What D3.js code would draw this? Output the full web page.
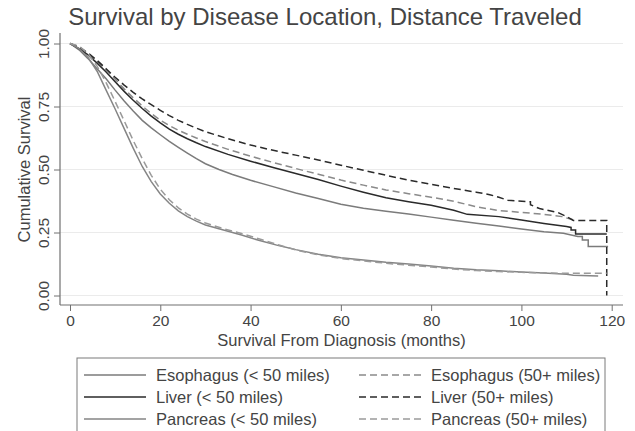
<!DOCTYPE html>
<html>
<head>
<meta charset="utf-8">
<script src="https://cdn.jsdelivr.net/npm/d3@7"></script>
<style>
  html, body { margin: 0; padding: 0; background: #fff; }
  svg { display: block; font-family: "Liberation Sans", Arial, sans-serif; }
</style>
</head>
<body>
<svg id="chart" width="635" height="431"></svg>
<script>
// Kaplan-Meier survival estimates: [months, cumulative survival]
const esophagusNear = [[0,1],[2,0.975],[4,0.94],[6,0.9],[8,0.86],[10,0.815],[12,0.772],[14,0.732],[16,0.695],[18,0.665],[20,0.638],[22,0.612],[24,0.588],[26,0.565],[28,0.543],[30,0.523],[33,0.5],[36,0.48],[40,0.457],[45,0.432],[50,0.407],[55,0.385],[60,0.362],[65,0.346],[70,0.334],[75,0.323],[80,0.311],[85,0.299],[90,0.287],[95,0.276],[100,0.264],[105,0.253],[109.3,0.247],[112.5,0.234],[113.5,0.234],[113.5,0.22],[114.8,0.22],[114.8,0.194],[119.2,0.194]];
const esophagusFar = [[0,1],[2,0.985],[4,0.96],[6,0.93],[8,0.896],[10,0.858],[12,0.82],[14,0.785],[16,0.752],[18,0.722],[20,0.696],[22,0.674],[24,0.656],[26,0.64],[28,0.625],[30,0.611],[35,0.58],[40,0.553],[45,0.528],[50,0.504],[55,0.481],[60,0.458],[65,0.438],[70,0.419],[75,0.404],[80,0.39],[85,0.374],[90,0.352],[95,0.337],[100,0.33],[105,0.322],[109,0.313],[111.5,0.3]];
const liverNear = [[0,1],[2,0.98],[4,0.955],[6,0.922],[8,0.887],[10,0.848],[12,0.81],[14,0.775],[16,0.742],[18,0.712],[20,0.685],[22,0.66],[24,0.64],[26,0.622],[28,0.606],[30,0.591],[35,0.56],[40,0.533],[45,0.508],[50,0.484],[55,0.46],[60,0.434],[65,0.41],[70,0.388],[75,0.372],[80,0.358],[85,0.338],[88,0.322],[95,0.313],[100,0.3],[105,0.286],[110,0.274],[111,0.27],[111,0.26],[112,0.26],[112,0.244],[118.9,0.244]];
const liverFar = [[0,1],[2,0.987],[4,0.962],[6,0.933],[8,0.9],[10,0.866],[12,0.835],[14,0.806],[16,0.78],[18,0.757],[20,0.735],[22,0.714],[24,0.695],[26,0.679],[28,0.664],[30,0.65],[35,0.622],[40,0.597],[45,0.576],[50,0.557],[55,0.538],[60,0.517],[65,0.497],[70,0.477],[75,0.458],[80,0.441],[85,0.425],[90,0.41],[93,0.4],[95,0.39],[97,0.378],[102,0.372],[102,0.36],[104,0.345],[108,0.33],[110,0.313],[111.5,0.298],[118.9,0.298],[118.9,0]];
const pancreasNear = [[0,1],[2,0.98],[4,0.945],[6,0.89],[8,0.815],[10,0.74],[12,0.662],[14,0.585],[16,0.512],[18,0.452],[20,0.403],[22,0.366],[24,0.336],[26,0.313],[28,0.295],[30,0.28],[34,0.26],[38,0.24],[42,0.218],[46,0.199],[50,0.182],[55,0.164],[60,0.15],[65,0.141],[70,0.132],[75,0.125],[80,0.117],[85,0.108],[90,0.102],[95,0.098],[100,0.093],[105,0.089],[110,0.084],[111.5,0.08],[117,0.077]];
const pancreasFar = [[0,1],[2,0.99],[4,0.96],[6,0.91],[8,0.845],[10,0.77],[12,0.693],[14,0.615],[16,0.543],[18,0.477],[20,0.422],[22,0.38],[24,0.348],[26,0.323],[28,0.303],[30,0.288],[34,0.265],[38,0.246],[42,0.224],[46,0.202],[50,0.181],[55,0.161],[60,0.147],[65,0.137],[70,0.128],[75,0.12],[80,0.113],[85,0.105],[90,0.099],[95,0.095],[100,0.092],[105,0.09],[110,0.088],[118.9,0.088]];

const xTicks = [0, 20, 40, 60, 80, 100, 120];
const yTicks = [0, 0.25, 0.5, 0.75, 1];
const seriesLabels = ["Esophagus (< 50 miles)", "Esophagus (50+ miles)", "Liver (< 50 miles)", "Liver (50+ miles)", "Pancreas (< 50 miles)", "Pancreas (50+ miles)"];

const series = [
  { label: seriesLabels[0], data: esophagusNear, color: "#7b7b7b", dash: null },
  { label: seriesLabels[1], data: esophagusFar,  color: "#8a8a8a", dash: "7,4" },
  { label: seriesLabels[2], data: liverNear,     color: "#2a2a2a", dash: null },
  { label: seriesLabels[3], data: liverFar,      color: "#2a2a2a", dash: "7,4" },
  { label: seriesLabels[4], data: pancreasNear,  color: "#858585", dash: null },
  { label: seriesLabels[5], data: pancreasFar,   color: "#9a9a9a", dash: "7,4" }
];

const frame = { left: 60, right: 623, top: 33, bottom: 305 };
const font = '"Liberation Sans", Arial, sans-serif';

const svg = d3.select("#chart");

const x = d3.scaleLinear().domain([0, 120]).range([70, 611.7]);
const y = d3.scaleLinear().domain([0, 1]).range([295.5, 43.5]);

// horizontal gridlines
svg.append("g").selectAll("line").data(yTicks).join("line")
  .attr("x1", frame.left).attr("x2", frame.right)
  .attr("y1", d => y(d)).attr("y2", d => y(d))
  .attr("stroke", "#ebebeb").attr("stroke-width", 1);

// title
svg.append("text")
  .attr("x", 325).attr("y", 25)
  .attr("text-anchor", "middle")
  .attr("font-size", 24).attr("fill", "#444")
  .text("Survival by Disease Location, Distance Traveled");

// survival curves
const line = d3.line().x(d => x(d[0])).y(d => y(d[1]));
svg.append("g").selectAll("path").data(series).join("path")
  .attr("d", d => line(d.data))
  .attr("fill", "none")
  .attr("stroke", d => d.color)
  .attr("stroke-width", 1.5)
  .attr("stroke-dasharray", d => d.dash);

// x axis
const xAxis = svg.append("g").attr("transform", `translate(0,${frame.bottom})`)
  .call(d3.axisBottom(x).tickValues(xTicks).tickSize(6).tickPadding(4).tickFormat(d3.format("d")));
xAxis.select(".domain").remove();
xAxis.append("line").attr("x1", frame.left).attr("x2", frame.right)
  .attr("stroke", "#707070").attr("stroke-width", 1.2);
xAxis.selectAll(".tick line").attr("stroke", "#707070");
xAxis.selectAll(".tick text").attr("font-size", 15.5).attr("fill", "#444").attr("font-family", font);

// y axis
const yAxis = svg.append("g").attr("transform", `translate(${frame.left},0)`)
  .call(d3.axisLeft(y).tickValues(yTicks).tickSize(6).tickFormat(d3.format(".2f")));
yAxis.select(".domain").remove();
yAxis.append("line").attr("y1", frame.top).attr("y2", frame.bottom)
  .attr("stroke", "#707070").attr("stroke-width", 1.2);
yAxis.selectAll(".tick line").attr("stroke", "#707070");
yAxis.selectAll(".tick text")
  .attr("font-size", 15.5).attr("fill", "#444").attr("font-family", font)
  .attr("x", null).attr("dy", null)
  .attr("text-anchor", "middle")
  .attr("transform", "translate(-11,0) rotate(-90)");

// axis titles
svg.append("text")
  .attr("x", (frame.left + frame.right) / 2).attr("y", 346)
  .attr("text-anchor", "middle").attr("font-size", 16.5).attr("fill", "#444")
  .text("Survival From Diagnosis (months)");
svg.append("text")
  .attr("transform", `translate(30,${(y(0) + y(1)) / 2}) rotate(-90)`)
  .attr("text-anchor", "middle").attr("font-size", 16.5).attr("fill", "#444")
  .text("Cumulative Survival");

// legend
const legend = svg.append("g");
legend.append("rect")
  .attr("x", 77).attr("y", 358).attr("width", 528).attr("height", 90)
  .attr("fill", "#fff").attr("stroke", "#7a7a7a").attr("stroke-width", 1);
const colX = [84, 359];
const rowY = [375, 397, 419];
const items = legend.selectAll("g.item").data(series).join("g")
  .attr("class", "item")
  .attr("transform", (d, i) => `translate(${colX[i % 2]},${rowY[Math.floor(i / 2)]})`);
items.append("line")
  .attr("x1", 0).attr("x2", 62).attr("y1", 0).attr("y2", 0)
  .attr("stroke", d => d.color).attr("stroke-width", 1.5)
  .attr("stroke-dasharray", d => d.dash);
items.append("text")
  .attr("x", 72).attr("y", 0).attr("dy", "0.35em")
  .attr("font-size", 16.5).attr("fill", "#444")
  .text(d => d.label);
</script>
</body>
</html>
